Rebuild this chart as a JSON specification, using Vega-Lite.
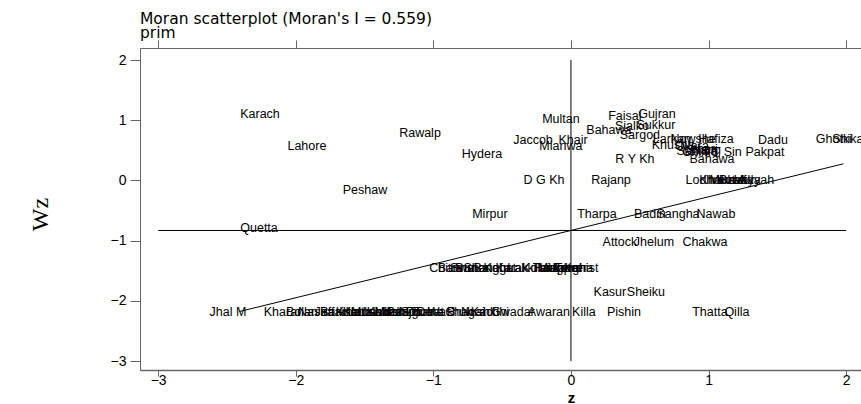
{
  "$schema": "https://vega.github.io/schema/vega-lite/v6.json",
  "width": 721,
  "height": 322,
  "autosize": {"type": "none"},
  "padding": {"left": 140, "top": 48, "right": 0, "bottom": 34},
  "background": "white",
  "config": {"view": {"stroke": null}, "font": "Liberation Sans"},
  "title": {
    "text": ["Moran scatterplot (Moran's I = 0.559)", "prim"],
    "anchor": "start",
    "frame": "group",
    "font": "DejaVu Sans",
    "fontSize": 15.5,
    "fontWeight": "normal",
    "color": "black",
    "lineHeight": 14,
    "offset": -2
  },
  "datasets": {
    "districts": [
      {"name": "Karach", "z": -2.260, "wz": 1.105},
      {"name": "Lahore", "z": -1.919, "wz": 0.573},
      {"name": "Rawalp", "z": -1.097, "wz": 0.789},
      {"name": "Hydera", "z": -0.647, "wz": 0.440},
      {"name": "Peshaw", "z": -1.497, "wz": -0.158},
      {"name": "Quetta", "z": -2.267, "wz": -0.789},
      {"name": "Multan", "z": -0.073, "wz": 1.022},
      {"name": "Faisal", "z": 0.392, "wz": 1.071},
      {"name": "Gujran", "z": 0.625, "wz": 1.105},
      {"name": "Sialko", "z": 0.443, "wz": 0.905},
      {"name": "Sukkur", "z": 0.618, "wz": 0.922},
      {"name": "Bahawa", "z": 0.276, "wz": 0.839},
      {"name": "Sargod", "z": 0.501, "wz": 0.756},
      {"name": "Jaccob", "z": -0.276, "wz": 0.673},
      {"name": "Khair", "z": 0.015, "wz": 0.673},
      {"name": "Mianwa", "z": -0.073, "wz": 0.573},
      {"name": "R Y Kh", "z": 0.465, "wz": 0.357},
      {"name": "Larkan", "z": 0.734, "wz": 0.689},
      {"name": "Nowshe", "z": 0.887, "wz": 0.689},
      {"name": "Hafiza", "z": 1.054, "wz": 0.689},
      {"name": "Dadu", "z": 1.468, "wz": 0.673},
      {"name": "Ghotki", "z": 1.911, "wz": 0.689},
      {"name": "Shikar", "z": 2.028, "wz": 0.689},
      {"name": "Khusha", "z": 0.741, "wz": 0.590},
      {"name": "Okara", "z": 0.879, "wz": 0.573},
      {"name": "Vehari", "z": 0.938, "wz": 0.523},
      {"name": "Sahiwa", "z": 0.916, "wz": 0.490},
      {"name": "Jhang", "z": 0.967, "wz": 0.507},
      {"name": "Chinio", "z": 0.938, "wz": 0.473},
      {"name": "T T Sin", "z": 1.097, "wz": 0.473},
      {"name": "Pakpat", "z": 1.410, "wz": 0.473},
      {"name": "Bahawa", "z": 1.025, "wz": 0.357},
      {"name": "D G Kh", "z": -0.196, "wz": 0.008},
      {"name": "Rajanp", "z": 0.291, "wz": 0.008},
      {"name": "Lodhra", "z": 0.974, "wz": 0.008},
      {"name": "Khanew", "z": 1.097, "wz": 0.008},
      {"name": "Muzaff", "z": 1.141, "wz": 0.008},
      {"name": "Kot Ad", "z": 1.192, "wz": 0.008},
      {"name": "Bhakka", "z": 1.228, "wz": 0.008},
      {"name": "Layyah", "z": 1.330, "wz": 0.008},
      {"name": "Mirpur", "z": -0.589, "wz": -0.556},
      {"name": "Tharpa", "z": 0.189, "wz": -0.556},
      {"name": "Badin", "z": 0.574, "wz": -0.556},
      {"name": "Sangha", "z": 0.778, "wz": -0.556},
      {"name": "Nawab", "z": 1.054, "wz": -0.556},
      {"name": "Attock", "z": 0.356, "wz": -1.022},
      {"name": "Jhelum", "z": 0.603, "wz": -1.022},
      {"name": "Chakwa", "z": 0.974, "wz": -1.022},
      {"name": "Chitra", "z": -0.908, "wz": -1.453},
      {"name": "Bannu", "z": -0.836, "wz": -1.453},
      {"name": "Swat", "z": -0.778, "wz": -1.453},
      {"name": "Buner", "z": -0.719, "wz": -1.453},
      {"name": "Shangl", "z": -0.640, "wz": -1.453},
      {"name": "Batagr", "z": -0.574, "wz": -1.453},
      {"name": "Kohat", "z": -0.516, "wz": -1.453},
      {"name": "Karak", "z": -0.429, "wz": -1.453},
      {"name": "Lakki", "z": -0.356, "wz": -1.453},
      {"name": "Kolai", "z": -0.254, "wz": -1.453},
      {"name": "Tank", "z": -0.182, "wz": -1.453},
      {"name": "Hangu", "z": -0.138, "wz": -1.453},
      {"name": "Malaka", "z": -0.094, "wz": -1.453},
      {"name": "Upper", "z": -0.044, "wz": -1.453},
      {"name": "Lower", "z": -0.007, "wz": -1.453},
      {"name": "Torgha", "z": 0.022, "wz": -1.453},
      {"name": "Kohist", "z": 0.073, "wz": -1.453},
      {"name": "Kasur", "z": 0.283, "wz": -1.852},
      {"name": "Sheiku", "z": 0.545, "wz": -1.852},
      {"name": "Jhal M", "z": -2.493, "wz": -2.184},
      {"name": "Kharan", "z": -2.086, "wz": -2.184},
      {"name": "Bolan", "z": -1.955, "wz": -2.184},
      {"name": "Nasira", "z": -1.853, "wz": -2.184},
      {"name": "Jaffar", "z": -1.751, "wz": -2.184},
      {"name": "Barkha", "z": -1.679, "wz": -2.184},
      {"name": "Kalat", "z": -1.606, "wz": -2.184},
      {"name": "Kech", "z": -1.555, "wz": -2.184},
      {"name": "Lorala", "z": -1.497, "wz": -2.184},
      {"name": "Musakh", "z": -1.439, "wz": -2.184},
      {"name": "Lasbel", "z": -1.381, "wz": -2.184},
      {"name": "Khuzda", "z": -1.330, "wz": -2.184},
      {"name": "Mastun", "z": -1.279, "wz": -2.184},
      {"name": "Kohlu", "z": -1.243, "wz": -2.184},
      {"name": "Panjgu", "z": -1.199, "wz": -2.184},
      {"name": "Sibi", "z": -1.163, "wz": -2.184},
      {"name": "Zhob", "z": -1.097, "wz": -2.184},
      {"name": "Ziarat", "z": -1.039, "wz": -2.184},
      {"name": "Dera B", "z": -0.981, "wz": -2.184},
      {"name": "Washuk", "z": -0.879, "wz": -2.184},
      {"name": "Chagai", "z": -0.770, "wz": -2.184},
      {"name": "Nushki", "z": -0.661, "wz": -2.184},
      {"name": "Kachhi", "z": -0.589, "wz": -2.184},
      {"name": "Gwadar", "z": -0.422, "wz": -2.184},
      {"name": "Awaran", "z": -0.160, "wz": -2.184},
      {"name": "Killa", "z": 0.094, "wz": -2.184},
      {"name": "Pishin", "z": 0.385, "wz": -2.184},
      {"name": "Thatta", "z": 1.010, "wz": -2.184},
      {"name": "Qilla", "z": 1.206, "wz": -2.184}
    ],
    "guides": [
      {"part": "mean Wz", "x1": -3, "x2": 2, "y1": -0.83, "y2": -0.83},
      {"part": "z = 0", "x1": 0, "x2": 0, "y1": -3, "y2": 2},
      {"part": "fit", "x1": -2.41, "x2": 1.98, "y1": -2.177, "y2": 0.277}
    ]
  },
  "resolve": {"axis": {"x": "independent", "y": "independent"}},
  "layer": [
    {
      "data": {"name": "guides"},
      "mark": {"type": "rule", "color": "black", "strokeWidth": 1},
      "encoding": {
        "x": {
          "field": "x1", "type": "quantitative",
          "scale": {"domain": [-3.132, 2.108], "nice": false, "zero": false},
          "axis": {
            "orient": "top", "values": [-3, -2, -1, 0, 1, 2], "labels": false,
            "title": null, "grid": false, "tickSize": 8, "tickColor": "#666",
            "domainColor": "#666", "domainWidth": 1
          }
        },
        "x2": {"field": "x2"},
        "y": {
          "field": "y1", "type": "quantitative",
          "scale": {"domain": [-3.148, 2.201], "nice": false, "zero": false},
          "axis": null
        },
        "y2": {"field": "y2"}
      }
    },
    {
      "data": {"name": "districts"},
      "mark": {
        "type": "text", "align": "center", "baseline": "middle",
        "font": "Liberation Sans", "fontSize": 12.5, "color": "black", "clip": true
      },
      "encoding": {
        "x": {
          "field": "z", "type": "quantitative",
          "scale": {"domain": [-3.132, 2.108], "nice": false, "zero": false},
          "axis": {
            "orient": "bottom", "values": [-3, -2, -1, 0, 1, 2], "title": "z",
            "grid": false, "tickSize": 6, "tickColor": "#666",
            "domainColor": "#666", "domainWidth": 1.5,
            "labelFont": "Liberation Sans", "labelFontSize": 14, "labelColor": "black",
            "labelPadding": -3, "labelFlush": false,
            "titleFont": "Liberation Sans", "titleFontSize": 15, "titleFontWeight": "bold",
            "titleColor": "black", "titlePadding": 3, "titleX": 431, "titleAnchor": "start",
            "titleAlign": "center"
          }
        },
        "y": {
          "field": "wz", "type": "quantitative",
          "scale": {"domain": [-3.148, 2.201], "nice": false, "zero": false},
          "axis": {
            "orient": "left", "values": [-3, -2, -1, 0, 1, 2], "title": "Wz",
            "grid": false, "tickSize": 10, "tickColor": "#666",
            "domainColor": "#666", "domainWidth": 1,
            "labelFont": "Liberation Sans", "labelFontSize": 14, "labelColor": "black",
            "labelPadding": 4, "labelFlush": false,
            "titleFont": "Liberation Serif", "titleFontSize": 24, "titleFontWeight": "normal",
            "titleColor": "black", "titleX": -100, "titleY": 166,
            "titleAlign": "center", "titleBaseline": "middle", "titleAngle": 270
          }
        },
        "text": {"field": "name", "type": "nominal"}
      }
    }
  ]
}
